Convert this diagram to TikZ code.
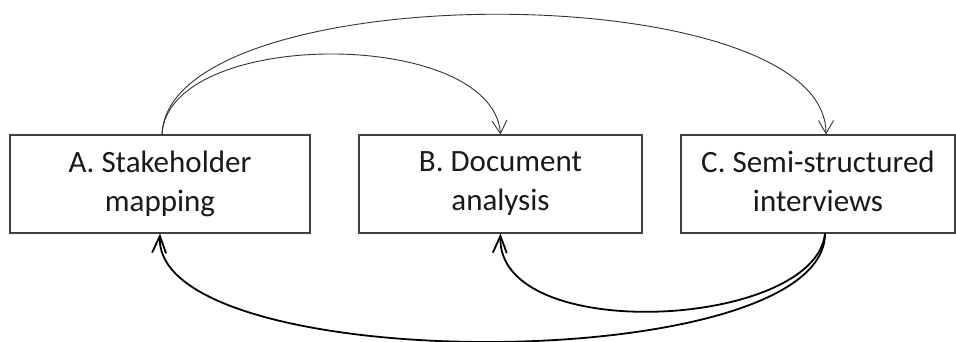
\documentclass[tikz,border=0pt]{standalone}
\usepackage{fontspec}
\setmainfont{Carlito}
\usetikzlibrary{arrows.meta}
\begin{document}
\begin{tikzpicture}[x=1pt,y=-1pt,
  box/.style={draw=black!75, line width=1.2pt, rectangle, minimum height=98pt, inner sep=0pt, align=center, font=\fontsize{31}{39}\selectfont, text=black!90},
  toparr/.style={draw=black!80, line width=0.9pt, -{Straight Barb[length=13pt,width=15pt]}},
  botarr/.style={draw=black, line width=1.8pt, -{Straight Barb[length=17pt,width=14pt]}}]
\useasboundingbox (0,0) rectangle (956,342);
\node[box, minimum width=300pt] (A) at (160,184) {A. Stakeholder\\mapping};
\node[box, minimum width=283pt] (B) at (500.5,184) {B. Document\\analysis};
\node[box, minimum width=274pt] (C) at (818,184) {C. Semi-structured\\interviews\vphantom{p}};
\coordinate (As) at ([xshift=2pt]A.north);
\coordinate (Cn) at ([xshift=8pt]C.north);
\coordinate (Cs) at ([xshift=7pt]C.south);
\draw[toparr] (As) .. controls +(6,-107) and +(-8,-107) .. (B.north);
\draw[toparr] (As) .. controls +(6,-160) and +(0,-160) .. (Cn);
\draw[botarr] (Cs) .. controls +(0,144) and +(-7,144) .. (A.south);
\draw[botarr] (Cs) .. controls +(-10,95) and +(-4,112) .. (B.south);
\end{tikzpicture}
\end{document}
